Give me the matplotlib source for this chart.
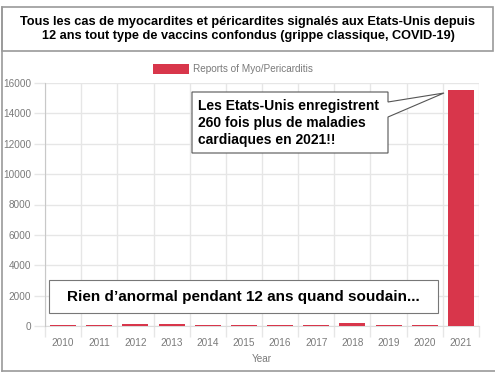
import matplotlib.pyplot as plt
from matplotlib.patches import Polygon, Rectangle
from matplotlib.lines import Line2D
from matplotlib.ticker import FixedLocator

plt.rcParams['font.family'] = ['Liberation Sans', 'DejaVu Sans']

## data
years = ['2010', '2011', '2012', '2013', '2014', '2015',
         '2016', '2017', '2018', '2019', '2020', '2021']
reports = [80, 80, 150, 120, 75, 60, 65, 80, 170, 75, 70, 15540]
yticks = [0, 2000, 4000, 6000, 8000, 10000, 12000, 14000, 16000]

title = ("Tous les cas de myocardites et péricardites signalés aux Etats-Unis depuis\n"
         "12 ans tout type de vaccins confondus (grippe classique, COVID-19)")
note_top = "Les Etats-Unis enregistrent\n260 fois plus de maladies\ncardiaques en 2021!!"
note_bottom = "Rien d\u2019anormal pendant 12 ans quand soudain..."

W, H = 495, 384
fig = plt.figure(figsize=(W / 100, H / 100), dpi=100)


def px(x, y):
    # pixel position (from top-left) -> figure fraction
    return (x / W, 1 - y / H)


grid_c = '#e6e6e6'
lab_c = '#7a7a7a'
red = '#d8364b'

ax = fig.add_axes([45 / W, 58 / H, (479 - 45) / W, (326 - 83) / H])
x = list(range(len(years)))
ax.bar(x, reports, width=0.72, color=red, linewidth=0,
       label='Reports of Myo/Pericarditis', zorder=3)

ax.set_xlim(-0.5, len(years) - 0.5)
ax.set_ylim(0, 16000)
ax.set_xticks(x)
ax.set_xticklabels(years, color=lab_c, fontsize=7.2)
ax.xaxis.set_minor_locator(FixedLocator([i - 0.5 for i in range(len(years) + 1)]))
ax.tick_params(axis='x', which='major', length=0, pad=9)
ax.tick_params(axis='x', which='minor', length=8, color=grid_c, width=1)
ax.set_yticks(yticks)
ax.set_yticklabels([str(v) for v in yticks], color=lab_c, fontsize=7.2)
ax.tick_params(axis='y', length=8, color=grid_c, width=1, pad=2)
ax.grid(True, which='minor', axis='x', color=grid_c, lw=1, zorder=0)
ax.grid(True, which='major', axis='y', color=grid_c, lw=1, zorder=0)
for s in ['top', 'right']:
    ax.spines[s].set_visible(False)
ax.spines['left'].set_color('#c8c8c8')
ax.spines['bottom'].set_color('#dcdcdc')
ax.spines['bottom'].set_zorder(1)
ax.set_xlabel('Year', color=lab_c, fontsize=7.2, labelpad=4)
ax.set_axisbelow(True)

leg = fig.legend(loc='center', bbox_to_anchor=px(233, 69), ncol=1, frameon=False,
                 fontsize=7.2, handlelength=3.6, handleheight=1.2, handletextpad=0.4,
                 borderaxespad=0, borderpad=0)
for t in leg.get_texts():
    t.set_color(lab_c)

## outer frame and title box
frame_c = '#9a9a9a'
fig.add_artist(Line2D([px(1.5, 7)[0], px(1.5, 371)[0]], [px(1.5, 7)[1], px(1.5, 371)[1]],
                      color=frame_c, lw=1.2))
fig.add_artist(Line2D([px(1.5, 371)[0], 1], [px(1.5, 371)[1], px(1.5, 371)[1]],
                      color=frame_c, lw=1.2))
x0, y0 = px(1.5, 51)
fig.add_artist(Rectangle((x0, y0), (493 - 1.5) / W, 44 / H, transform=fig.transFigure,
                         facecolor='white', edgecolor=frame_c, lw=1.2))
fig.text(*px(248, 29), title, ha='center', va='center', fontsize=9.2,
         fontweight='bold', linespacing=1.3)

## callout box top
pts = [px(192, 92), px(388, 92), px(388, 102), px(444, 93), px(388, 117),
       px(388, 153), px(192, 153)]
fig.add_artist(Polygon(pts, closed=True, transform=fig.transFigure,
                       facecolor='white', edgecolor='#555555', lw=0.8, zorder=5))
fig.text(*px(198, 123), note_top, ha='left', va='center', fontsize=10,
         fontweight='bold', linespacing=1.25, zorder=6)

## box bottom
bx, by = px(49, 313)
fig.add_artist(Rectangle((bx, by), (438 - 49) / W, 33 / H, transform=fig.transFigure,
                         facecolor='white', edgecolor='#777777', lw=0.8, zorder=5))
fig.text(*px(243, 297), note_bottom, ha='center', va='center', fontsize=11,
         fontweight='bold', zorder=6)

fig.savefig('out.png', dpi=100)
